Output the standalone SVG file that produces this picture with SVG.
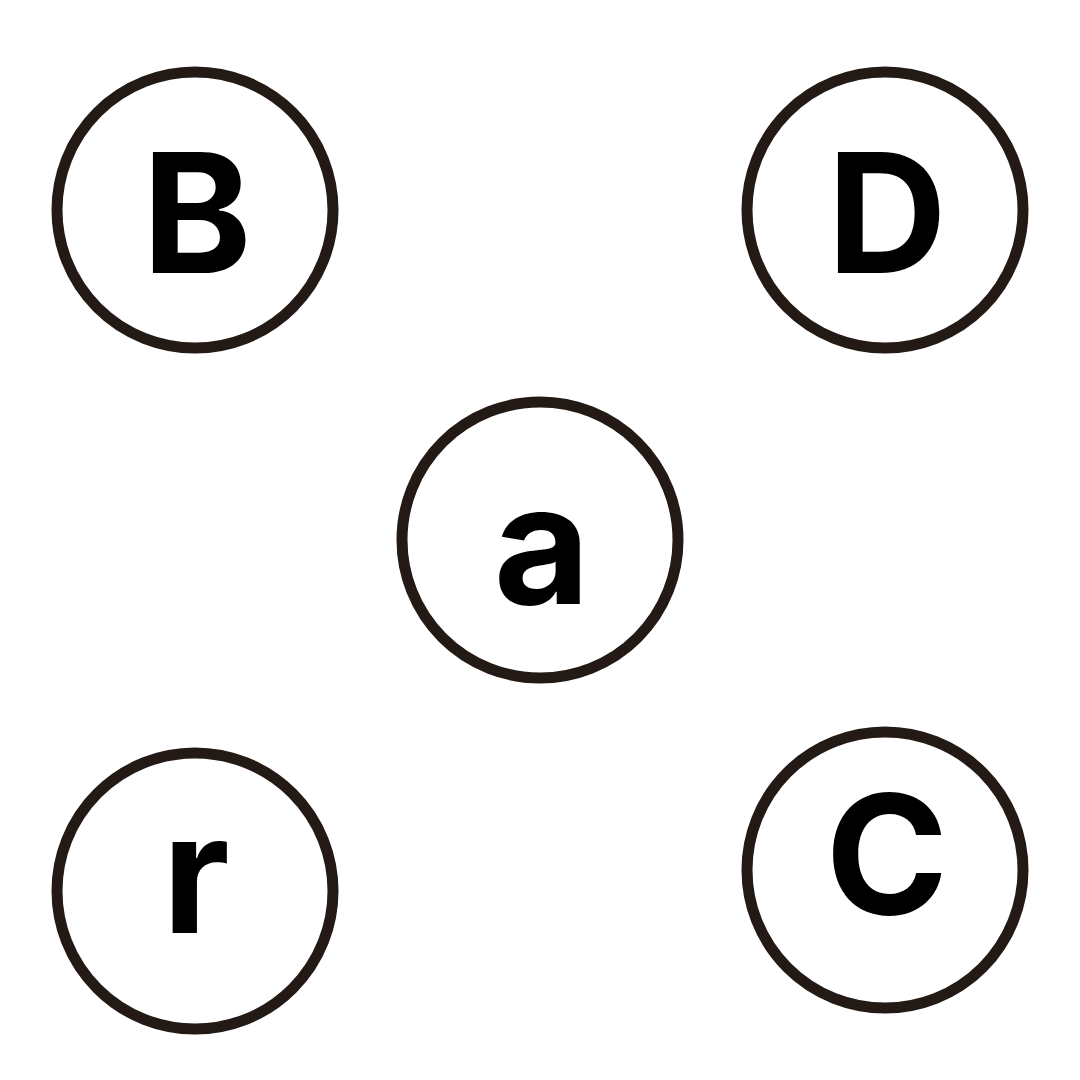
<svg xmlns="http://www.w3.org/2000/svg" width="1080" height="1080" viewBox="0 0 1080 1080">
<style>
.n circle{fill:#ffffff;stroke:#231a15;stroke-width:11}
.n text{font-family:Inter,"Liberation Sans",sans-serif;font-weight:700;font-size:166px;fill:#000000;text-anchor:middle}
</style>
<rect width="1080" height="1080" fill="#ffffff"/>
<g id="connectors"></g>
<g id="node-B" class="n"><circle cx="195" cy="210" r="138"/><text x="197" y="273">B</text></g>
<g id="node-D" class="n"><circle cx="885" cy="210" r="138"/><text x="887" y="273">D</text></g>
<g id="node-a" class="n"><circle cx="540" cy="540" r="138"/><text x="542" y="604">a</text></g>
<g id="node-r" class="n"><circle cx="195" cy="891" r="138"/><text x="196" y="933">r</text></g>
<g id="node-C" class="n"><circle cx="885" cy="870" r="138"/><text x="887" y="914">C</text></g>
</svg>
